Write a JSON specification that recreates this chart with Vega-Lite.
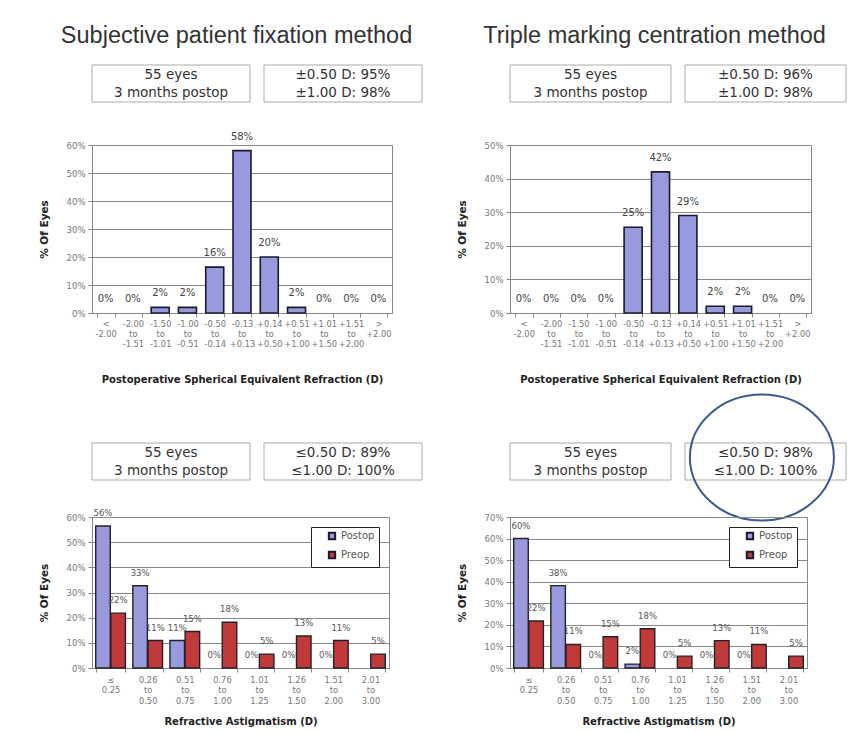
{
  "$schema": "https://vega.github.io/schema/vega-lite/v6.json",
  "background": "white",
  "padding": {"left": 38, "top": 24, "right": 0, "bottom": 8},
  "config": {
    "font": "DejaVu Sans",
    "view": {"stroke": null},
    "axis": {"labelFont": "DejaVu Sans", "titleFont": "DejaVu Sans", "labelColor": "#777", "titleColor": "#222", "domainColor": "#888", "tickColor": "#888", "gridColor": "#888", "gridOpacity": 1}
  },
  "datasets": {
    "se1": [
      {"range": "< -2.00", "pct": 0, "label": "0%"},
      {"range": "-2.00 to -1.51", "pct": 0, "label": "0%"},
      {"range": "-1.50 to -1.01", "pct": 2, "label": "2%"},
      {"range": "-1.00 to -0.51", "pct": 2, "label": "2%"},
      {"range": "-0.50 to -0.14", "pct": 16.4, "label": "16%"},
      {"range": "-0.13 to +0.13", "pct": 58, "label": "58%"},
      {"range": "+0.14 to +0.50", "pct": 20, "label": "20%"},
      {"range": "+0.51 to +1.00", "pct": 2, "label": "2%"},
      {"range": "+1.01 to +1.50", "pct": 0, "label": "0%"},
      {"range": "+1.51 to +2.00", "pct": 0, "label": "0%"},
      {"range": "> +2.00", "pct": 0, "label": "0%"}
    ],
    "se2": [
      {"range": "< -2.00", "pct": 0, "label": "0%"},
      {"range": "-2.00 to -1.51", "pct": 0, "label": "0%"},
      {"range": "-1.50 to -1.01", "pct": 0, "label": "0%"},
      {"range": "-1.00 to -0.51", "pct": 0, "label": "0%"},
      {"range": "-0.50 to -0.14", "pct": 25.5, "label": "25%"},
      {"range": "-0.13 to +0.13", "pct": 42, "label": "42%"},
      {"range": "+0.14 to +0.50", "pct": 29, "label": "29%"},
      {"range": "+0.51 to +1.00", "pct": 2, "label": "2%"},
      {"range": "+1.01 to +1.50", "pct": 2, "label": "2%"},
      {"range": "+1.51 to +2.00", "pct": 0, "label": "0%"},
      {"range": "> +2.00", "pct": 0, "label": "0%"}
    ],
    "ast1": [
      {"range": "≤ 0.25", "grp": "Postop", "pct": 56.4, "label": "56%"},
      {"range": "≤ 0.25", "grp": "Preop", "pct": 21.8, "label": "22%"},
      {"range": "0.26 to 0.50", "grp": "Postop", "pct": 32.7, "label": "33%"},
      {"range": "0.26 to 0.50", "grp": "Preop", "pct": 10.9, "label": "11%"},
      {"range": "0.51 to 0.75", "grp": "Postop", "pct": 10.9, "label": "11%"},
      {"range": "0.51 to 0.75", "grp": "Preop", "pct": 14.5, "label": "15%"},
      {"range": "0.76 to 1.00", "grp": "Postop", "pct": 0, "label": "0%"},
      {"range": "0.76 to 1.00", "grp": "Preop", "pct": 18.2, "label": "18%"},
      {"range": "1.01 to 1.25", "grp": "Postop", "pct": 0, "label": "0%"},
      {"range": "1.01 to 1.25", "grp": "Preop", "pct": 5.5, "label": "5%"},
      {"range": "1.26 to 1.50", "grp": "Postop", "pct": 0, "label": "0%"},
      {"range": "1.26 to 1.50", "grp": "Preop", "pct": 12.7, "label": "13%"},
      {"range": "1.51 to 2.00", "grp": "Postop", "pct": 0, "label": "0%"},
      {"range": "1.51 to 2.00", "grp": "Preop", "pct": 10.9, "label": "11%"},
      {"range": "2.01 to 3.00", "grp": "Preop", "pct": 5.5, "label": "5%"}
    ],
    "ast2": [
      {"range": "≤ 0.25", "grp": "Postop", "pct": 60, "label": "60%"},
      {"range": "≤ 0.25", "grp": "Preop", "pct": 21.8, "label": "22%"},
      {"range": "0.26 to 0.50", "grp": "Postop", "pct": 38.2, "label": "38%"},
      {"range": "0.26 to 0.50", "grp": "Preop", "pct": 10.9, "label": "11%"},
      {"range": "0.51 to 0.75", "grp": "Postop", "pct": 0, "label": "0%"},
      {"range": "0.51 to 0.75", "grp": "Preop", "pct": 14.5, "label": "15%"},
      {"range": "0.76 to 1.00", "grp": "Postop", "pct": 1.8, "label": "2%"},
      {"range": "0.76 to 1.00", "grp": "Preop", "pct": 18.2, "label": "18%"},
      {"range": "1.01 to 1.25", "grp": "Postop", "pct": 0, "label": "0%"},
      {"range": "1.01 to 1.25", "grp": "Preop", "pct": 5.5, "label": "5%"},
      {"range": "1.26 to 1.50", "grp": "Postop", "pct": 0, "label": "0%"},
      {"range": "1.26 to 1.50", "grp": "Preop", "pct": 12.7, "label": "13%"},
      {"range": "1.51 to 2.00", "grp": "Postop", "pct": 0, "label": "0%"},
      {"range": "1.51 to 2.00", "grp": "Preop", "pct": 10.9, "label": "11%"},
      {"range": "2.01 to 3.00", "grp": "Preop", "pct": 5.5, "label": "5%"}
    ]
  },
  "spacing": 33,
  "resolve": {"scale": {"color": "independent"}, "legend": {"color": "independent"}},
  "hconcat": [
    {
      "title": {"text": "Subjective patient fixation method", "font": "Liberation Sans", "fontSize": 23.5, "fontWeight": "normal", "color": "#333", "anchor": "middle", "dx": 6, "offset": 17},
      "spacing": 57,
      "resolve": {"scale": {"color": "independent"}, "legend": {"color": "independent"}},
      "vconcat": [
        {
          "bounds": "flush",
          "spacing": 43,
          "vconcat": [
            {
              "width": 330, "height": 37,
              "data": {"values": [{"box": "a", "txt": "55 eyes\n3 months postop"}, {"box": "b", "txt": "±0.50 D: 95%\n±1.00 D: 98%"}]},
              "encoding": {"x": {"field": "box", "type": "nominal", "axis": null, "scale": {"paddingInner": 0.0814, "paddingOuter": 0}}},
              "layer": [
                {"mark": {"type": "rect", "fill": "white", "stroke": "#aaa", "strokeWidth": 1}},
                {"mark": {"type": "text", "lineBreak": "\n", "fontSize": 13.5, "lineHeight": 18, "dy": -9, "color": "#333", "baseline": "middle"}, "encoding": {"text": {"field": "txt"}}}
              ]
            },
            {
              "width": 300, "height": 168,
              "view": {"stroke": "#888"},
              "data": {"name": "se1"},
              "encoding": {
                "x": {"field": "range", "type": "nominal", "scale": {"domain": ["< -2.00", "-2.00 to -1.51", "-1.50 to -1.01", "-1.00 to -0.51", "-0.50 to -0.14", "-0.13 to +0.13", "+0.14 to +0.50", "+0.51 to +1.00", "+1.01 to +1.50", "+1.51 to +2.00", "> +2.00"], "paddingInner": 0.34, "paddingOuter": 0.17},
                  "axis": {"title": "Postoperative Spherical Equivalent Refraction (D)", "labelExpr": "split(datum.label, ' ')", "labelAngle": 0, "labelOverlap": false, "labelFontSize": 8.3, "labelLineHeight": 10, "labelPadding": 2, "tickBand": "extent", "tickSize": 4, "titleFontSize": 10, "titleFontWeight": "bold", "titlePadding": 27}},
                "y": {"field": "pct", "type": "quantitative", "scale": {"domain": [0, 60], "nice": false},
                  "axis": {"title": "% Of Eyes", "values": [0, 10, 20, 30, 40, 50, 60], "labelExpr": "datum.value + '%'", "labelFontSize": 8.5, "tickSize": 4, "labelPadding": 3, "grid": true, "titleFontSize": 10.5, "titleFontWeight": "bold", "titlePadding": 17}}
              },
              "layer": [
                {"transform": [{"filter": "datum.pct > 0"}], "mark": {"type": "bar", "fill": "#9999dd", "stroke": "#1a1a2e", "strokeWidth": 1.6}},
                {"mark": {"type": "text", "baseline": "bottom", "dy": -9, "fontSize": 10, "color": "#444"}, "encoding": {"text": {"field": "label"}}}
              ]
            }
          ]
        },
        {
          "bounds": "flush",
          "spacing": 37,
          "resolve": {"scale": {"color": "independent"}, "legend": {"color": "independent"}},
          "vconcat": [
            {
              "width": 330, "height": 37,
              "data": {"values": [{"box": "a", "txt": "55 eyes\n3 months postop"}, {"box": "b", "txt": "≤0.50 D: 89%\n≤1.00 D: 100%"}]},
              "encoding": {"x": {"field": "box", "type": "nominal", "axis": null, "scale": {"paddingInner": 0.0814, "paddingOuter": 0}}},
              "layer": [
                {"mark": {"type": "rect", "fill": "white", "stroke": "#aaa", "strokeWidth": 1}},
                {"mark": {"type": "text", "lineBreak": "\n", "fontSize": 13.5, "lineHeight": 18, "dy": -9, "color": "#333", "baseline": "middle"}, "encoding": {"text": {"field": "txt"}}}
              ]
            },
            {
              "width": 297, "height": 151,
              "view": {"stroke": "#888"},
              "data": {"name": "ast1"},
              "encoding": {
                "x": {"field": "range", "type": "nominal", "scale": {"domain": ["≤ 0.25", "0.26 to 0.50", "0.51 to 0.75", "0.76 to 1.00", "1.01 to 1.25", "1.26 to 1.50", "1.51 to 2.00", "2.01 to 3.00"], "paddingInner": 0.2, "paddingOuter": 0.1},
                  "axis": {"title": "Refractive Astigmatism (D)", "labelExpr": "split(datum.label, ' ')", "labelAngle": 0, "labelOverlap": false, "labelFontSize": 8.3, "labelLineHeight": 10.5, "labelPadding": 3, "tickBand": "extent", "tickSize": 4, "titleFontSize": 10, "titleFontWeight": "bold", "titlePadding": 12}},
                "xOffset": {"field": "grp", "type": "nominal", "scale": {"domain": ["Postop", "Preop"], "paddingInner": 0.04}},
                "y": {"field": "pct", "type": "quantitative", "scale": {"domain": [0, 60], "nice": false},
                  "axis": {"title": "% Of Eyes", "values": [0, 10, 20, 30, 40, 50, 60], "labelExpr": "datum.value + '%'", "labelFontSize": 8.5, "tickSize": 4, "labelPadding": 3, "grid": true, "titleFontSize": 10.5, "titleFontWeight": "bold", "titlePadding": 17}}
              },
              "layer": [
                {"transform": [{"filter": "datum.pct > 0"}], "mark": {"type": "bar", "stroke": "#222", "strokeWidth": 1.4},
                  "encoding": {"color": {"field": "grp", "type": "nominal", "scale": {"domain": ["Postop", "Preop"], "range": ["#9999dd", "#c0393b"]},
                    "legend": {"orient": "top-right", "offset": 10, "title": null, "symbolType": "square", "symbolSize": 40, "symbolStrokeColor": "#1a1a30", "symbolStrokeWidth": 2, "symbolOffset": 12, "labelFontSize": 10, "labelColor": "#555", "labelOffset": 4, "rowPadding": 3, "padding": 4, "strokeColor": "#222", "fillColor": "white"}}}},
                {"mark": {"type": "text", "baseline": "bottom", "dy": -8, "fontSize": 8.5, "color": "#555"}, "encoding": {"text": {"field": "label"}}}
              ]
            }
          ]
        }
      ]
    },
    {
      "title": {"text": "Triple marking centration method", "font": "Liberation Sans", "fontSize": 23.5, "fontWeight": "normal", "color": "#333", "anchor": "middle", "dx": 3, "offset": 17},
      "spacing": 5,
      "resolve": {"scale": {"color": "independent"}, "legend": {"color": "independent"}},
      "vconcat": [
        {
          "bounds": "flush",
          "spacing": 43,
          "vconcat": [
            {
              "width": 336, "height": 37,
              "data": {"values": [{"box": "a", "txt": "55 eyes\n3 months postop"}, {"box": "b", "txt": "±0.50 D: 96%\n±1.00 D: 98%"}]},
              "encoding": {"x": {"field": "box", "type": "nominal", "axis": null, "scale": {"paddingInner": 0.08, "paddingOuter": 0}}},
              "layer": [
                {"mark": {"type": "rect", "fill": "white", "stroke": "#aaa", "strokeWidth": 1}},
                {"mark": {"type": "text", "lineBreak": "\n", "fontSize": 13.5, "lineHeight": 18, "dy": -9, "color": "#333", "baseline": "middle"}, "encoding": {"text": {"field": "txt"}}}
              ]
            },
            {
              "width": 301, "height": 168,
              "view": {"stroke": "#888"},
              "data": {"name": "se2"},
              "encoding": {
                "x": {"field": "range", "type": "nominal", "scale": {"domain": ["< -2.00", "-2.00 to -1.51", "-1.50 to -1.01", "-1.00 to -0.51", "-0.50 to -0.14", "-0.13 to +0.13", "+0.14 to +0.50", "+0.51 to +1.00", "+1.01 to +1.50", "+1.51 to +2.00", "> +2.00"], "paddingInner": 0.34, "paddingOuter": 0.17},
                  "axis": {"title": "Postoperative Spherical Equivalent Refraction (D)", "labelExpr": "split(datum.label, ' ')", "labelAngle": 0, "labelOverlap": false, "labelFontSize": 8.3, "labelLineHeight": 10, "labelPadding": 2, "tickBand": "extent", "tickSize": 4, "titleFontSize": 10, "titleFontWeight": "bold", "titlePadding": 27}},
                "y": {"field": "pct", "type": "quantitative", "scale": {"domain": [0, 50], "nice": false},
                  "axis": {"title": "% Of Eyes", "values": [0, 10, 20, 30, 40, 50], "labelExpr": "datum.value + '%'", "labelFontSize": 8.5, "tickSize": 4, "labelPadding": 3, "grid": true, "titleFontSize": 10.5, "titleFontWeight": "bold", "titlePadding": 17}}
              },
              "layer": [
                {"transform": [{"filter": "datum.pct > 0"}], "mark": {"type": "bar", "fill": "#9999dd", "stroke": "#1a1a2e", "strokeWidth": 1.6}},
                {"mark": {"type": "text", "baseline": "bottom", "dy": -9, "fontSize": 10, "color": "#444"}, "encoding": {"text": {"field": "label"}}}
              ]
            }
          ]
        },
        {
          "bounds": "flush",
          "spacing": 37,
          "resolve": {"scale": {"color": "independent"}, "legend": {"color": "independent"}},
          "vconcat": [
            {
              "width": 336, "height": 37,
              "data": {"values": [{"box": "a", "txt": "55 eyes\n3 months postop"}, {"box": "b", "txt": "≤0.50 D: 98%\n≤1.00 D: 100%"}]},
              "encoding": {"x": {"field": "box", "type": "nominal", "axis": null, "scale": {"paddingInner": 0.08, "paddingOuter": 0}}},
              "layer": [
                {"mark": {"type": "rect", "fill": "white", "stroke": "#aaa", "strokeWidth": 1}},
                {"mark": {"type": "text", "lineBreak": "\n", "fontSize": 13.5, "lineHeight": 18, "dy": -9, "color": "#333", "baseline": "middle"}, "encoding": {"text": {"field": "txt"}}},
                {"transform": [{"filter": "datum.box == 'b'"}], "mark": {"type": "point", "shape": "M -1.05 -0.055 C -1.05 -0.5383 -0.6023 -0.93 -0.05 -0.93 C 0.5023 -0.93 0.95 -0.5383 0.95 -0.055 C 0.95 0.4283 0.5023 0.82 -0.05 0.82 C -0.6023 0.82 -1.05 0.4283 -1.05 -0.055 Z", "size": 20736, "filled": false, "stroke": "#3b5a8f", "strokeWidth": 2, "opacity": 1}}
              ]
            },
            {
              "width": 297, "height": 151,
              "view": {"stroke": "#888"},
              "data": {"name": "ast2"},
              "encoding": {
                "x": {"field": "range", "type": "nominal", "scale": {"domain": ["≤ 0.25", "0.26 to 0.50", "0.51 to 0.75", "0.76 to 1.00", "1.01 to 1.25", "1.26 to 1.50", "1.51 to 2.00", "2.01 to 3.00"], "paddingInner": 0.2, "paddingOuter": 0.1},
                  "axis": {"title": "Refractive Astigmatism (D)", "labelExpr": "split(datum.label, ' ')", "labelAngle": 0, "labelOverlap": false, "labelFontSize": 8.3, "labelLineHeight": 10.5, "labelPadding": 3, "tickBand": "extent", "tickSize": 4, "titleFontSize": 10, "titleFontWeight": "bold", "titlePadding": 12}},
                "xOffset": {"field": "grp", "type": "nominal", "scale": {"domain": ["Postop", "Preop"], "paddingInner": 0.04}},
                "y": {"field": "pct", "type": "quantitative", "scale": {"domain": [0, 70], "nice": false},
                  "axis": {"title": "% Of Eyes", "values": [0, 10, 20, 30, 40, 50, 60, 70], "labelExpr": "datum.value + '%'", "labelFontSize": 8.5, "tickSize": 4, "labelPadding": 3, "grid": true, "titleFontSize": 10.5, "titleFontWeight": "bold", "titlePadding": 17}}
              },
              "layer": [
                {"transform": [{"filter": "datum.pct > 0"}], "mark": {"type": "bar", "stroke": "#222", "strokeWidth": 1.4},
                  "encoding": {"color": {"field": "grp", "type": "nominal", "scale": {"domain": ["Postop", "Preop"], "range": ["#9999dd", "#c0393b"]},
                    "legend": {"orient": "top-right", "offset": 10, "title": null, "symbolType": "square", "symbolSize": 40, "symbolStrokeColor": "#1a1a30", "symbolStrokeWidth": 2, "symbolOffset": 12, "labelFontSize": 10, "labelColor": "#555", "labelOffset": 4, "rowPadding": 3, "padding": 4, "strokeColor": "#222", "fillColor": "white"}}}},
                {"mark": {"type": "text", "baseline": "bottom", "dy": -8, "fontSize": 8.5, "color": "#555"}, "encoding": {"text": {"field": "label"}}}
              ]
            }
          ]
        }
      ]
    }
  ]
}
